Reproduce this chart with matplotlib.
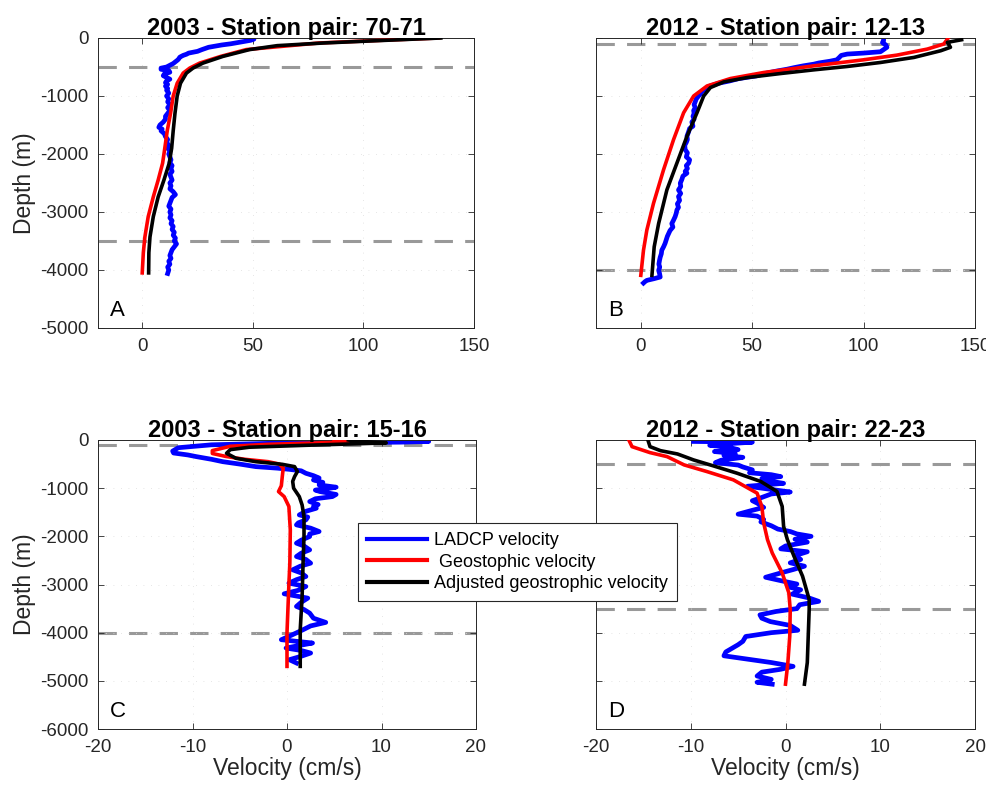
import matplotlib
matplotlib.use("Agg")
import matplotlib.pyplot as plt

plt.rcParams['font.family'] = ['Liberation Sans', 'DejaVu Sans']
plt.rcParams['axes.unicode_minus'] = False

# ---------------- Panel A (2003, pair 70-71) ----------------
a_blue_v = [50, 50.5, 49, 46, 43, 40, 36, 33, 30, 28.5, 27, 25, 21, 20, 18.5, 17, 16.5, 16, 15, 14, 12.5, 11,
            8.5, 8.5, 12, 12.5, 10, 9.5, 11, 12.5, 11, 10.5, 11.5, 10.5, 11.5, 11, 12, 11, 12, 11.5, 12.5, 11.5,
            12.5, 11.5, 10.5, 10.5, 9.5, 8, 7.5, 9, 8.5, 10, 10.5, 11.5, 11, 12, 11.5, 12.5, 12, 12.5, 13, 12.5,
            13.5, 13, 13.5, 12.5, 13, 13.5, 12.5, 13, 12.5, 14, 15, 13.5, 13, 12.5, 12, 13, 12.5, 13, 12.5,
            13.5, 13, 14, 13.5, 14.5, 14, 15, 14.5, 15.5, 14.5, 13.5, 13, 12.5, 13, 12, 12.5, 11.5, 12, 11.5]
a_blue_d = [0, -20, -40, -60, -80, -100, -120, -140, -160, -180, -200, -230, -260, -280, -300, -330, -360, -380,
            -410, -440, -470, -500, -520, -540, -560, -590, -620, -650, -680, -710, -740, -770, -800, -830, -870,
            -900, -950, -1000, -1050, -1100, -1150, -1200, -1250, -1300, -1350, -1400, -1450, -1500, -1540,
            -1570, -1600, -1650, -1700, -1750, -1800, -1850, -1900, -1950, -2000, -2050, -2100, -2150, -2200,
            -2250, -2300, -2350, -2400, -2450, -2500, -2550, -2600, -2650, -2700, -2750, -2800, -2850, -2900,
            -2950, -3000, -3050, -3100, -3150, -3200, -3250, -3300, -3350, -3400, -3450, -3500, -3550, -3600,
            -3650, -3700, -3750, -3800, -3850, -3900, -3950, -4000, -4060]
a_red_v = [134, 108, 80, 47, 35.5, 26, 21.5, 18.5, 15.8, 14, 12.8, 11.3, 10.2, 9.2, 7.2, 5, 2.7, 1.2, 0.5, 0]
a_red_d = [0, -40, -86, -200, -317, -432, -518, -605, -780, -1000, -1300, -1600, -1900, -2160, -2450, -2740,
           -3080, -3430, -3700, -4050]
a_blk_v = [135, 110, 82, 61, 48.5, 36.5, 27.5, 23, 20, 17.3, 15.8, 14.8, 14, 13.3, 12.2, 9.8, 7.2, 5, 3.5, 3, 2.9]
a_blk_d = [0, -40, -86, -132, -200, -317, -432, -518, -605, -780, -1000, -1300, -1600, -1900, -2160, -2450,
           -2740, -3080, -3430, -3700, -4050]
a_dash = [-500, -3500]

# ---------------- Panel B (2012, pair 12-13) ----------------
b_blue_v = [109, 109, 108.5, 110, 110.5, 109, 107.6, 100, 92.7, 90, 89, 88, 85, 80, 77.7, 73, 69, 65.7, 61, 56,
            52, 44, 40, 35, 31, 29.8, 27.5, 27, 26, 25, 24.5, 24, 24.5, 23.8, 24, 23.5, 24, 23, 23.5, 22, 21.5,
            20.8, 21, 20.5, 19.8, 20, 21, 20.5, 22, 21.6, 20.5, 21, 20, 20.8, 19, 18.5, 17.8, 18, 17, 18, 17,
            17.5, 16.5, 17, 16.3, 16, 15.5, 14.8, 14, 14.5, 13.2, 12.6, 12, 11.5, 11, 10.3, 9.5, 9.3, 8.8, 8.5,
            8.2, 8.6, 8.1, 8.5, 8.8, 6, 2.8, 2, 1.3]
b_blue_d = [0, -40, -80, -120, -160, -200, -237, -260, -277, -300, -340, -376, -400, -430, -451, -480, -510,
            -538, -570, -610, -653, -700, -740, -780, -830, -873, -920, -960, -1000, -1050, -1100, -1150, -1200,
            -1250, -1300, -1350, -1400, -1450, -1520, -1560, -1620, -1694, -1750, -1800, -1850, -1925, -1980,
            -2050, -2100, -2156, -2200, -2250, -2300, -2330, -2380, -2440, -2503, -2560, -2620, -2680, -2734,
            -2800, -2860, -2920, -2965, -3020, -3080, -3139, -3200, -3260, -3320, -3370, -3420, -3480, -3540,
            -3601, -3660, -3720, -3780, -3832, -3900, -3950, -4006, -4060, -4121, -4150, -4179, -4200, -4225]
b_red_v = [138, 136, 128.6, 115, 100, 77.7, 55.2, 40.3, 29.8, 23.8, 19.3, 14.8, 10.3, 5.8, 2.8, 1.3, 0.1]
b_red_d = [0, -104, -191, -295, -376, -480, -595, -699, -827, -1000, -1289, -1751, -2272, -2850, -3312,
           -3659, -4092]
b_blk_v = [144, 137.6, 139, 134.6, 122.6, 107.6, 92.7, 77.7, 62.7, 47.8, 37.3, 31.3, 28.3, 25.3, 20.8, 16.3,
           11.8, 8.1, 6.1, 5.1]
b_blk_d = [-30, -75, -160, -220, -335, -422, -491, -549, -613, -682, -757, -855, -1000, -1289, -1694, -2156,
           -2618, -3197, -3601, -4092]
b_dash = [-100, -4000]

# ---------------- Panel C (2003, pair 15-16) ----------------
c_blue_v = [13, 15, 12, 5, -2, -8, -11.5, -12.1, -12, -10.5, -9.6, -8, -6.8, -5, -3.3, -1, 0.2, 1.5, 2, 2.8,
            3.4, 2.8, 3.8, 3.4, 5.2, 4.5, 3, 3.5, 5.2, 4.8, 3, 2.4, 3.3, 2.8, 3.1, 2, 1.3, 2.2, 2, 1.2, 1, 2.5,
            3.4, 2.4, 2.4, 1.5, 1, 1.8, 2.4, 1.5, 1, 2, 2.5, 1.4, 0.6, 1.5, 2, 1, 0.2, 2, 1.2, -0.3, 2.2, 1.5,
            1, 1.8, 2.4, 2.8, 4.1, 2.5, 1.7, 0.5, -0.6, 2.7, 1.2, -0.1, 1.5, 2.5, 1.5, 0.25, 1]
c_blue_d = [-10, -30, -45, -55, -70, -100, -160, -230, -270, -310, -345, -400, -450, -500, -553, -585, -608,
            -640, -691, -740, -790, -830, -880, -933, -980, -1002, -1040, -1071, -1130, -1175, -1220, -1278,
            -1340, -1380, -1417, -1480, -1555, -1600, -1659, -1720, -1762, -1830, -1900, -1950, -2004, -2080,
            -2142, -2200, -2281, -2350, -2419, -2480, -2557, -2620, -2695, -2760, -2834, -2900, -2972, -3041,
            -3120, -3193, -3283, -3370, -3455, -3520, -3594, -3700, -3787, -3860, -3939, -4050, -4146, -4215,
            -4270, -4319, -4370, -4423, -4490, -4561, -4630]
c_red_v = [5, 6.5, 5, -2, -6, -7.9, -7.9, -6.5, -4.5, -2, -0.8, -0.4, -0.5, -0.6, -0.9, -0.3, 0.2, 0.35, 0.3,
           0.2, 0.1, 0, 0]
c_red_d = [-15, -30, -50, -90, -130, -220, -280, -340, -400, -450, -500, -587, -760, -950, -1071, -1175, -1380,
           -1866, -2557, -3000, -3500, -4000, -4700]
c_blk_v = [6.5, 7, 10.5, 2, -4, -6.0, -6.4, -5.4, -3.3, -0.5, 0.8, 1.1, 0.8, 0.6, 0.7, 1.3, 1.6, 1.8, 1.8, 1.7,
           1.6, 1.4, 1.4]
c_blk_d = [0, -20, -60, -110, -150, -200, -276, -380, -450, -505, -553, -656, -760, -860, -1000, -1175, -1350,
           -1590, -2000, -2557, -3248, -3939, -4700]
c_dash = [-100, -4000]

# ---------------- Panel D (2012, pair 22-23) ----------------
d_blue_v = [-9.7, -3.5, -5.5, -8, -6, -5, -7.5, -5.3, -6.5, -4.5, -6.8, -7.4, -5, -4.5, -3.5, -3.8, -1.5, -0.5,
            -2.5, -1.8, -0.2, -4, -2.5, 0.5, -1.5, -2.6, -3.5, -3.0, -2.3, -3.5, -5, -3, -2.3, -2.6, -1.5, -0.8,
            0.5, 1.2, 2.7, 1, 2.3, 0, -0.5, 2.3, 1, 1.6, 0.5, 2, 0.8, -0.5, -2.1, -0.5, 1.2, 0.3, 1.6, 0.7, 2.5,
            3.5, 1.5, 1.2, -1.0, -2.7, -2.5, -1.6, 0.5, 1.3, -1.5, -4.2, -4.5, -5.0, -6.3, -6.5, -4, -1.5, 0.8,
            -0.5, -2.5, -3, -1.5, -3, -1.4]
d_blue_d = [-30, -45, -70, -110, -150, -200, -240, -280, -320, -360, -420, -470, -520, -560, -620, -680, -720,
            -760, -800, -850, -900, -960, -1000, -1080, -1120, -1200, -1260, -1310, -1400, -1460, -1540, -1580,
            -1650, -1700, -1780, -1850, -1900, -1950, -2000, -2060, -2120, -2200, -2260, -2320, -2400, -2480,
            -2550, -2620, -2690, -2760, -2850, -2920, -2990, -3050, -3110, -3200, -3280, -3350, -3420, -3500,
            -3560, -3630, -3700, -3770, -3850, -3950, -4000, -4080, -4180, -4250, -4400, -4480, -4550, -4620,
            -4700, -4760, -4820, -4900, -4970, -5030, -5070]
d_red_v = [-16.5, -16.2, -14.3, -12.5, -10.7, -8.3, -5.5, -3, -2.5, -2.3, -1.9, -1.4, -0.35, 0.35, 0.5, 0.45,
           0.25, 0]
d_red_d = [-14, -138, -262, -345, -517, -655, -828, -1103, -1379, -1724, -2069, -2345, -2759, -3172, -3517,
           -4069, -4621, -5069]
d_blk_v = [-14.5, -14.3, -13.2, -11.4, -9.7, -7.6, -5.1, -2.6, -0.9, -0.35, -0.2, 0.2, 0.9, 1.8, 2.5, 2.5, 2.4,
           2.3, 2.0]
d_blk_d = [-14, -138, -221, -290, -414, -538, -690, -862, -1069, -1379, -1793, -2069, -2414, -2828, -3310,
           -3517, -4069, -4621, -5069]
d_dash = [-500, -3500]

titles = ["2003 - Station pair: 70-71", "2012 - Station pair: 12-13",
          "2003 - Station pair: 15-16", "2012 - Station pair: 22-23"]
letters = ["A", "B", "C", "D"]
legend_labels = ["LADCP velocity", " Geostophic velocity", "Adjusted geostrophic velocity"]

W, H = 987, 797
fig = plt.figure(figsize=(W / 100, H / 100), dpi=100)

def px_axes(x0, y0, x1, y1):
    return fig.add_axes([x0 / W, 1 - y1 / H, (x1 - x0) / W, (y1 - y0) / H])

axA = px_axes(98, 38, 474, 328)
axB = px_axes(596, 38, 975, 328)
axC = px_axes(98, 440, 476, 729)
axD = px_axes(596, 440, 975, 729)

panels = [
    (axA, a_blue_v, a_blue_d, a_red_v, a_red_d, a_blk_v, a_blk_d, a_dash, (-20, 150), (-5000, 0), [0, 50, 100, 150]),
    (axB, b_blue_v, b_blue_d, b_red_v, b_red_d, b_blk_v, b_blk_d, b_dash, (-20, 150), (-5000, 0), [0, 50, 100, 150]),
    (axC, c_blue_v, c_blue_d, c_red_v, c_red_d, c_blk_v, c_blk_d, c_dash, (-20, 20), (-6000, 0), [-20, -10, 0, 10, 20]),
    (axD, d_blue_v, d_blue_d, d_red_v, d_red_d, d_blk_v, d_blk_d, d_dash, (-20, 20), (-6000, 0), [-20, -10, 0, 10, 20]),
]

axcol = '#262626'
handles = None
for i, (ax, bv, bd, rv, rd, kv, kd, dash, xl, yl, xt) in enumerate(panels):
    for d in dash:
        ax.axhline(d, color='#999999', lw=2.2, dashes=(6, 4), zorder=1)
    hb, = ax.plot(bv, bd, color='#0000ff', lw=3.4, solid_joinstyle='round', zorder=2)
    hr, = ax.plot(rv, rd, color='#ff0000', lw=2.6, zorder=3)
    hk, = ax.plot(kv, kd, color='#000000', lw=2.6, zorder=4)
    if handles is None:
        handles = [hb, hr, hk]
    ax.set_xlim(*xl)
    ax.set_ylim(*yl)
    ax.set_xticks(xt)
    ax.set_yticks(list(range(yl[0], 1, 1000)))
    ax.grid(True, color='#dddddd', lw=0.6, linestyle=(0, (1, 8)))
    ax.tick_params(direction='in', top=True, right=True, length=4, width=0.6,
                   labelsize=13.5, colors=axcol)
    ax.tick_params(axis='x', pad=7)
    ax.tick_params(axis='y', pad=7)
    for s in ax.spines.values():
        s.set_color(axcol)
        s.set_linewidth(0.7)
    ax.set_title(titles[i], fontsize=17, fontweight='bold', pad=2)
    ax.text(0.032, 0.025, letters[i], transform=ax.transAxes, fontsize=16, ha='left', va='bottom')
    if i in (1, 3):
        ax.set_yticklabels([])
    else:
        ax.set_ylabel("Depth (m)", fontsize=16.5, labelpad=3, color=axcol)
    if i in (2, 3):
        ax.set_xlabel("Velocity (cm/s)", fontsize=16.5, labelpad=1, color=axcol)

leg = fig.legend(handles, legend_labels, loc='upper left', bbox_to_anchor=(358 / W, 1 - 523 / H),
                 fontsize=13, frameon=True, fancybox=False, edgecolor='#262626', framealpha=1,
                 handlelength=3.3, handletextpad=0.4, borderpad=0.5, labelspacing=0.25, borderaxespad=0)
leg.get_frame().set_linewidth(0.8)
for h in leg.get_lines():
    h.set_linewidth(3)

fig.savefig("out.png", dpi=100)
